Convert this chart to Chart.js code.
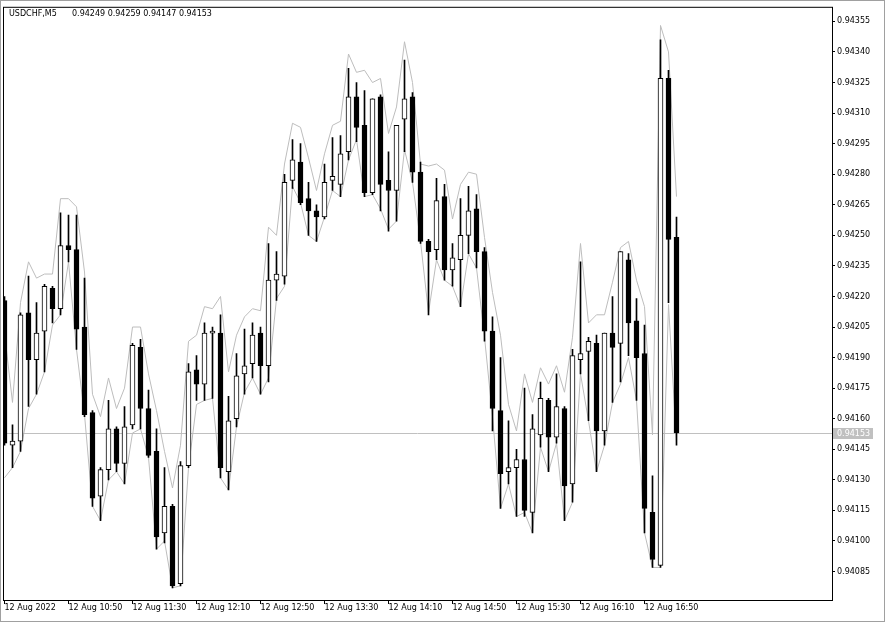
<!DOCTYPE html>
<html>
<head>
<meta charset="utf-8">
<script src="https://cdn.jsdelivr.net/npm/chart.js@4.4.0/dist/chart.umd.min.js"></script>
<style>
  html, body { margin: 0; padding: 0; background: #fff; }
  canvas { display: block; }
</style>
</head>
<body>
<canvas id="chart" width="886" height="623"></canvas>
<script>
const symbol = 'USDCHF,M5';

const times = [
  '10:10', '10:15', '10:20', '10:25', '10:30', '10:35', '10:40', '10:45', '10:50', '10:55',
  '11:00', '11:05', '11:10', '11:15', '11:20', '11:25', '11:30', '11:35', '11:40', '11:45', '11:50', '11:55',
  '12:00', '12:05', '12:10', '12:15', '12:20', '12:25', '12:30', '12:35', '12:40', '12:45', '12:50', '12:55',
  '13:00', '13:05', '13:10', '13:15', '13:20', '13:25', '13:30', '13:35', '13:40', '13:45', '13:50', '13:55',
  '14:00', '14:05', '14:10', '14:15', '14:20', '14:25', '14:30', '14:35', '14:40', '14:45', '14:50', '14:55',
  '15:00', '15:05', '15:10', '15:15', '15:20', '15:25', '15:30', '15:35', '15:40', '15:45', '15:50', '15:55',
  '16:00', '16:05', '16:10', '16:15', '16:20', '16:25', '16:30', '16:35', '16:40', '16:45', '16:50', '16:55',
  '17:00', '17:05', '17:10'
];

const opens = [
  0.94218, 0.94147, 0.94149, 0.94212, 0.94189, 0.94203, 0.94224, 0.94214, 0.94245, 0.94243,
  0.94205, 0.94163, 0.94122, 0.94135, 0.94155, 0.94138, 0.94157, 0.94195, 0.94165, 0.94144,
  0.94104, 0.94117, 0.94079, 0.94137, 0.94184, 0.94177, 0.94202, 0.94202, 0.94134, 0.94160,
  0.94182, 0.94187, 0.94202, 0.94186, 0.94228, 0.94230, 0.94277, 0.94286, 0.94268, 0.94262,
  0.94259, 0.94277, 0.94275, 0.94291, 0.94318, 0.94304, 0.94271, 0.94318, 0.94277, 0.94272,
  0.94307, 0.94318, 0.94281, 0.94247, 0.94243, 0.94269, 0.94233, 0.94238, 0.94250, 0.94263,
  0.94242, 0.94203, 0.94164, 0.94134, 0.94136, 0.94140, 0.94114, 0.94152, 0.94169, 0.94151,
  0.94165, 0.94128, 0.94189, 0.94193, 0.94197, 0.94154, 0.94202, 0.94197, 0.94238, 0.94208,
  0.94192, 0.94114, 0.94088, 0.94327, 0.94249
];
const highs = [
  0.94220, 0.94157, 0.94212, 0.94230, 0.94217, 0.94226, 0.94225, 0.94261, 0.94260, 0.94260,
  0.94229, 0.94164, 0.94136, 0.94169, 0.94156, 0.94166, 0.94197, 0.94199, 0.94174, 0.94155,
  0.94136, 0.94118, 0.94139, 0.94187, 0.94191, 0.94207, 0.94205, 0.94211, 0.94171, 0.94192,
  0.94204, 0.94207, 0.94205, 0.94246, 0.94242, 0.94280, 0.94297, 0.94295, 0.94276, 0.94265,
  0.94285, 0.94298, 0.94299, 0.94332, 0.94325, 0.94321, 0.94317, 0.94319, 0.94291, 0.94304,
  0.94336, 0.94320, 0.94286, 0.94248, 0.94278, 0.94275, 0.94246, 0.94268, 0.94274, 0.94270,
  0.94244, 0.94210, 0.94190, 0.94159, 0.94145, 0.94175, 0.94162, 0.94178, 0.94170, 0.94182,
  0.94166, 0.94194, 0.94237, 0.94200, 0.94201, 0.94202, 0.94220, 0.94242, 0.94241, 0.94219,
  0.94206, 0.94132, 0.94346, 0.94331, 0.94259
];
const lows = [
  0.94147, 0.94136, 0.94144, 0.94166, 0.94172, 0.94183, 0.94207, 0.94211, 0.94237, 0.94194,
  0.94161, 0.94117, 0.94110, 0.94130, 0.94134, 0.94128, 0.94155, 0.94155, 0.94141, 0.94096,
  0.94099, 0.94077, 0.94078, 0.94136, 0.94169, 0.94169, 0.94170, 0.94131, 0.94125, 0.94156,
  0.94172, 0.94180, 0.94172, 0.94178, 0.94218, 0.94226, 0.94273, 0.94265, 0.94250, 0.94247,
  0.94258, 0.94272, 0.94269, 0.94287, 0.94296, 0.94269, 0.94270, 0.94262, 0.94252, 0.94257,
  0.94291, 0.94276, 0.94246, 0.94211, 0.94238, 0.94228, 0.94225, 0.94215, 0.94241, 0.94234,
  0.94198, 0.94154, 0.94116, 0.94128, 0.94112, 0.94112, 0.94104, 0.94146, 0.94134, 0.94148,
  0.94110, 0.94119, 0.94182, 0.94159, 0.94134, 0.94147, 0.94168, 0.94178, 0.94191, 0.94169,
  0.94104, 0.94087, 0.94087, 0.94217, 0.94147
];
const closes = [
  0.94148, 0.94149, 0.94211, 0.94189, 0.94202, 0.94225, 0.94214, 0.94245, 0.94243, 0.94204,
  0.94162, 0.94121, 0.94135, 0.94155, 0.94138, 0.94156, 0.94196, 0.94165, 0.94142, 0.94102,
  0.94117, 0.94078, 0.94137, 0.94183, 0.94177, 0.94202, 0.94203, 0.94136, 0.94159, 0.94181,
  0.94186, 0.94201, 0.94186, 0.94228, 0.94231, 0.94276, 0.94287, 0.94266, 0.94262, 0.94259,
  0.94276, 0.94279, 0.94290, 0.94318, 0.94303, 0.94271, 0.94317, 0.94275, 0.94272, 0.94304,
  0.94317, 0.94281, 0.94247, 0.94242, 0.94267, 0.94233, 0.94239, 0.94250, 0.94262, 0.94242,
  0.94203, 0.94165, 0.94133, 0.94136, 0.94140, 0.94115, 0.94155, 0.94170, 0.94151, 0.94166,
  0.94127, 0.94191, 0.94192, 0.94198, 0.94154, 0.94202, 0.94195, 0.94242, 0.94207, 0.94190,
  0.94116, 0.94091, 0.94327, 0.94248, 0.94153
];

// grey upper / lower lines
const upperBand = [
  0.94202, 0.94168, 0.94217, 0.94237, 0.94229, 0.94231, 0.94231, 0.94268, 0.94268, 0.94264,
  0.94232, 0.94172, 0.94161, 0.94180, 0.94165, 0.94175, 0.94205, 0.94205, 0.94182, 0.94164,
  0.94144, 0.94126, 0.94147, 0.94198, 0.94201, 0.94215, 0.94214, 0.94220, 0.94183, 0.94201,
  0.94210, 0.94214, 0.94213, 0.94254, 0.94250, 0.94285, 0.94305, 0.94303, 0.94288, 0.94272,
  0.94290, 0.94304, 0.94306, 0.94339, 0.94330, 0.94331, 0.94325, 0.94327, 0.94300, 0.94313,
  0.94345, 0.94325, 0.94285, 0.94284, 0.94285, 0.94282, 0.94258, 0.94275, 0.94281, 0.94280,
  0.94249, 0.94222, 0.94201, 0.94167, 0.94154, 0.94182, 0.94168, 0.94185, 0.94177, 0.94186,
  0.94173, 0.94200, 0.94246, 0.94207, 0.94211, 0.94211, 0.94227, 0.94244, 0.94247, 0.94228,
  0.94215, 0.94152, 0.94353, 0.94340, 0.94269
];
const lowerBand = [
  0.94131, 0.94136, 0.94144, 0.94165, 0.94172, 0.94183, 0.94206, 0.94211, 0.94237, 0.94194,
  0.94162, 0.94117, 0.94110, 0.94130, 0.94134, 0.94128, 0.94153, 0.94155, 0.94141, 0.94096,
  0.94100, 0.94077, 0.94078, 0.94136, 0.94167, 0.94169, 0.94170, 0.94131, 0.94125, 0.94156,
  0.94173, 0.94180, 0.94172, 0.94180, 0.94219, 0.94225, 0.94274, 0.94266, 0.94250, 0.94247,
  0.94259, 0.94272, 0.94269, 0.94287, 0.94297, 0.94269, 0.94270, 0.94263, 0.94253, 0.94257,
  0.94292, 0.94276, 0.94247, 0.94212, 0.94238, 0.94228, 0.94225, 0.94215, 0.94241, 0.94234,
  0.94200, 0.94161, 0.94116, 0.94128, 0.94112, 0.94114, 0.94104, 0.94146, 0.94134, 0.94148,
  0.94110, 0.94119, 0.94182, 0.94159, 0.94134, 0.94147, 0.94168, 0.94177, 0.94190, 0.94169,
  0.94104, 0.94087, 0.94087, 0.94216, 0.94148
];

const xTickIdx = [0, 8, 16, 24, 32, 40, 48, 56, 64, 72, 80];
const xTickLabels = [
  '12 Aug 2022', '12 Aug 10:50', '12 Aug 11:30', '12 Aug 12:10', '12 Aug 12:50', '12 Aug 13:30',
  '12 Aug 14:10', '12 Aug 14:50', '12 Aug 15:30', '12 Aug 16:10', '12 Aug 16:50'
];
const yTicks = [
  0.94085, 0.94100, 0.94115, 0.94130, 0.94145, 0.94160, 0.94175, 0.94190, 0.94205, 0.94220,
  0.94235, 0.94250, 0.94265, 0.94280, 0.94295, 0.94310, 0.94325, 0.94340, 0.94355
];

const FONT = { family: "'DejaVu Sans', sans-serif", size: 8 };
const GREY = '#bdbdbd';
const lastClose = closes[closes.length - 1];

const isBull = i => closes[i] >= opens[i];

// frame, bid line, title text
const mtPlugin = {
  id: 'mt',
  beforeDatasetsDraw(chart) {
    const { ctx, chartArea: a, scales } = chart;
    const y = Math.round(scales.y.getPixelForValue(lastClose)) + 0.5;
    ctx.save();
    ctx.strokeStyle = '#c0c0c0';
    ctx.lineWidth = 1;
    ctx.beginPath();
    ctx.moveTo(a.left, y);
    ctx.lineTo(a.right, y);
    ctx.stroke();
    ctx.restore();
  },
  afterDraw(chart) {
    const { ctx, chartArea: a, scales } = chart;
    ctx.save();
    // outer window edge
    ctx.strokeStyle = '#a0a0a0';
    ctx.lineWidth = 1;
    ctx.strokeRect(0.5, 0.5, 884, 621);
    // chart frame
    ctx.strokeStyle = '#000';
    ctx.strokeRect(a.left + 0.5, a.top + 0.5, a.right - a.left, a.bottom - a.top);

    // last price label
    const y = Math.round(scales.y.getPixelForValue(lastClose));
    ctx.fillStyle = '#c0c0c0';
    ctx.fillRect(a.right + 1, y - 5, 40, 11);
    ctx.fillStyle = '#fff';
    ctx.font = `${FONT.size}px ${FONT.family}`;
    ctx.textBaseline = 'middle';
    ctx.textAlign = 'left';
    ctx.fillText(lastClose.toFixed(5), a.right + 5, y + 1);

    // title
    ctx.fillStyle = '#000';
    ctx.textBaseline = 'alphabetic';
    ctx.fillText(symbol, 9, 16);
    const last = opens.length - 1;
    ctx.fillText([opens[last], highs[last], lows[last], closes[last]].map(v => v.toFixed(5)).join(' '), 72, 16);
    ctx.restore();
  }
};

const ctx = document.getElementById('chart').getContext('2d');

new Chart(ctx, {
  type: 'bar',
  data: {
    datasets: [{
      type: 'line',
      data: upperBand.map((v, i) => ({ x: i, y: v })),
      borderColor: GREY,
      borderWidth: 1,
      pointRadius: 0,
      tension: 0,
      order: 3
    }, {
      type: 'line',
      data: lowerBand.map((v, i) => ({ x: i, y: v })),
      borderColor: GREY,
      borderWidth: 1,
      pointRadius: 0,
      tension: 0,
      order: 3
    }, {
      // wicks
      data: highs.map((h, i) => ({ x: i, y: [lows[i], h] })),
      backgroundColor: '#000',
      borderWidth: 0,
      barThickness: 1,
      grouped: false,
      order: 2
    }, {
      // bodies
      data: opens.map((o, i) => ({ x: i, y: [o, closes[i]] })),
      backgroundColor: c => isBull(c.dataIndex) ? '#fff' : '#000',
      borderColor: '#000',
      borderWidth: 1,
      borderSkipped: false,
      barThickness: 5,
      grouped: false,
      order: 1
    }]
  },
  options: {
    responsive: false,
    animation: false,
    events: [],
    layout: { padding: { left: 3, top: 2, right: 0, bottom: 0 } },
    plugins: {
      legend: { display: false },
      tooltip: { enabled: false }
    },
    scales: {
      x: {
        type: 'linear',
        offset: false,
        min: -0.1875,
        max: 103.4375,
        afterFit: s => { s.height = 23; },
        afterBuildTicks: s => { s.ticks = xTickIdx.map(v => ({ value: v })); },
        border: { display: false },
        grid: { offset: false, drawOnChartArea: false, drawTicks: true, tickLength: 4, color: '#000' },
        ticks: {
          autoSkip: false,
          maxRotation: 0,
          align: 'start',
          padding: -1,
          color: '#000',
          font: FONT,
          callback: v => xTickLabels[xTickIdx.indexOf(v)]
        }
      },
      y: {
        position: 'right',
        min: 0.9407103,
        max: 0.9436216,
        afterFit: s => { s.width = 54; },
        afterBuildTicks: s => { s.ticks = yTicks.map(v => ({ value: v })); },
        border: { display: false },
        grid: { drawOnChartArea: false, drawTicks: true, tickLength: 3, color: '#000' },
        ticks: {
          padding: 2,
          color: '#000',
          font: FONT,
          callback: v => v.toFixed(5)
        }
      }
    }
  },
  plugins: [mtPlugin]
});
</script>
</body>
</html>
